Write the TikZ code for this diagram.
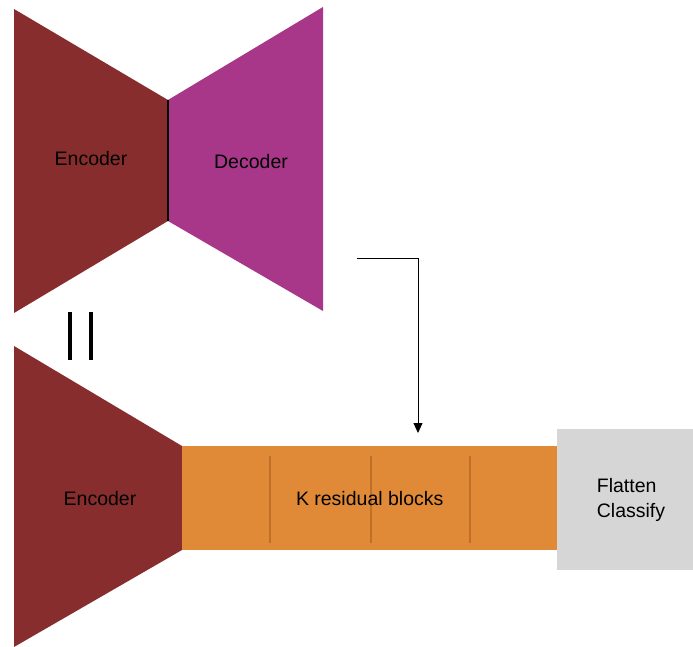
\documentclass[tikz,border=0pt]{standalone}
\usepackage{fontspec}
\setmainfont{Liberation Sans}
\usetikzlibrary{arrows.meta}
\definecolor{encred}{RGB}{136,45,45}
\definecolor{decpurple}{RGB}{168,55,138}
\definecolor{resorange}{RGB}{224,138,56}
\definecolor{resline}{RGB}{190,112,40}
\definecolor{flatgrey}{RGB}{214,214,214}
\tikzset{
  label text/.style={font=\fontsize{19.5}{25}\selectfont, text=black, inner sep=0pt},
}
\begin{document}
\begin{tikzpicture}[x=1pt,y=-1pt]
\useasboundingbox (0,0) rectangle (693,647);

\coordinate (e1) at (14,9);
\coordinate (e2) at (168,100);
\coordinate (e3) at (168,221);
\coordinate (e4) at (14,313);
\coordinate (d1) at (323,7);
\coordinate (d2) at (323,311);
\fill[encred] (e1) -- (e2) -- (e3) -- (e4) -- cycle;
\fill[decpurple] (e2) -- (d1) -- (d2) -- (e3) -- cycle;
\draw[line width=1.2pt] (e2) -- (e3);
\node[label text] (enctop) at (91,159) {Encoder};
\node[label text] (dectop) at (251,162) {Decoder};

\draw[line width=3.5pt] (70,312) -- (70,360);
\draw[line width=3.5pt] (91,312) -- (91,360);

\coordinate (b1) at (14,346);
\coordinate (b2) at (182,446);
\coordinate (b3) at (182,550);
\coordinate (b4) at (14,647);
\fill[encred] (b1) -- (b2) -- (b3) -- (b4) -- cycle;
\node[label text] (encbot) at (100,499) {Encoder};

\node[fill=resorange, minimum width=375pt, minimum height=104pt, anchor=north west, inner sep=0pt] (res) at (b2) {};
\foreach \x in {270,371,470}
  \draw[resline, line width=1.2pt] (\x,456) -- (\x,543);
\node[label text] (restext) at (res.center) {K residual blocks};

\node[fill=flatgrey, minimum width=136pt, minimum height=141pt, anchor=north west, inner sep=0pt] (flat) at (557,429) {};
\node[label text, align=left] (flattext) at (631,500) {Flatten\\Classify};

\coordinate (decout) at (357,258);
\coordinate (tip) at (418,433);
\draw[line width=0.8pt, -{Triangle[width=9pt,length=10pt]}] (decout) -| (tip);

\end{tikzpicture}
\end{document}
